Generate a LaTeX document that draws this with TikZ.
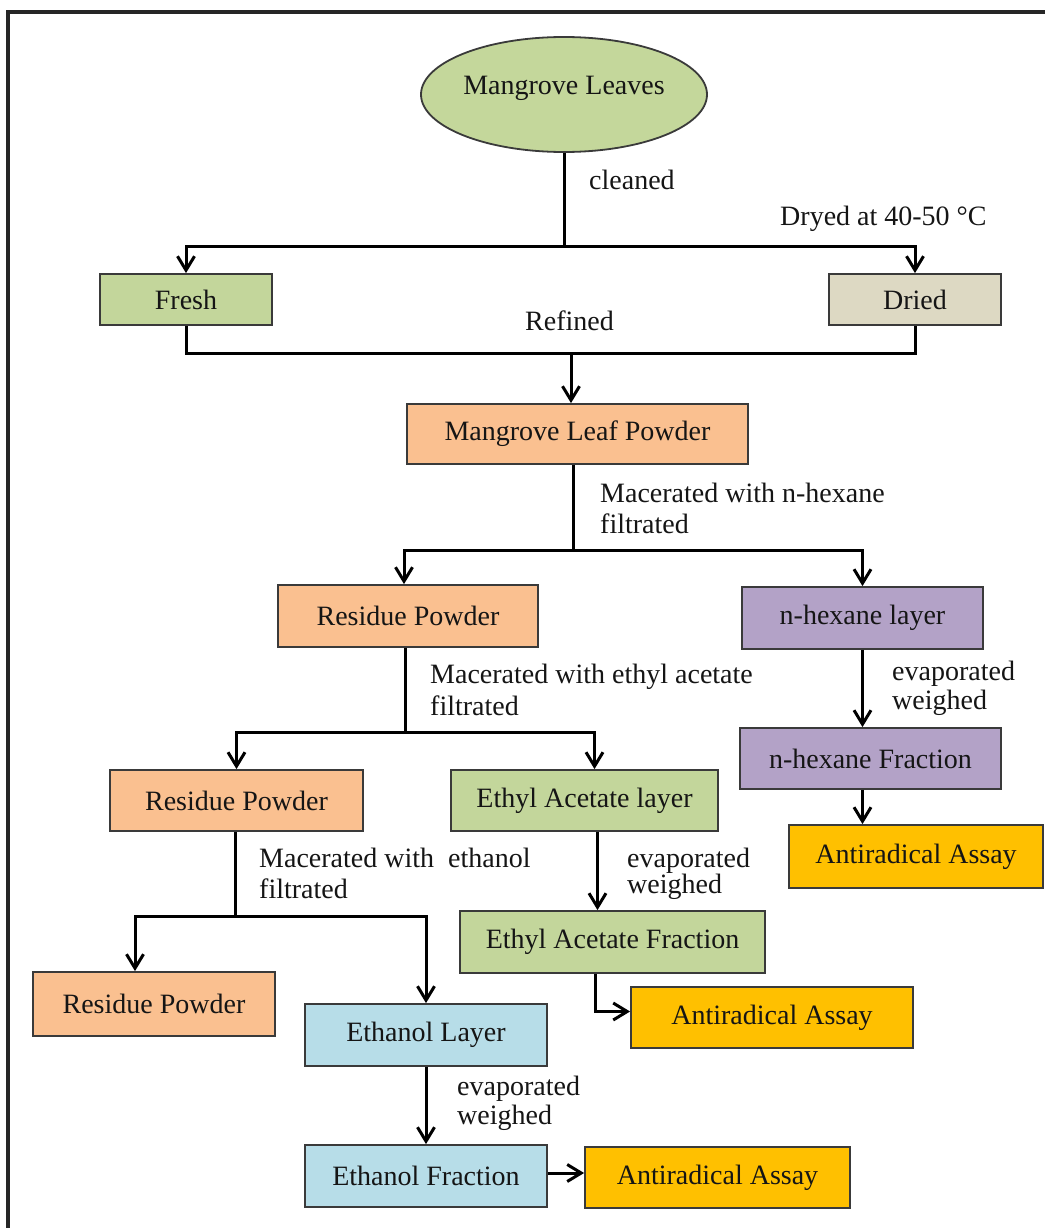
\documentclass[tikz,border=0pt]{standalone}
\usepackage{fontspec}
\setmainfont{Liberation Serif}
\usetikzlibrary{shapes.geometric,arrows.meta,calc}
\definecolor{cEll}{HTML}{C4D79B}
\definecolor{cFresh}{HTML}{C3D69B}
\definecolor{cDried}{HTML}{DDD9C3}
\definecolor{cOr}{HTML}{FAC090}
\definecolor{cPu}{HTML}{B3A2C7}
\definecolor{cGr}{HTML}{C3D69B}
\definecolor{cBl}{HTML}{B7DDE8}
\definecolor{cGo}{HTML}{FFC000}
\definecolor{bd}{HTML}{3A3A3A}
\definecolor{txt}{HTML}{151515}
\newcommand\myfs{\fontsize{28}{32}\selectfont}
\begin{document}
\begin{tikzpicture}[x=1pt,y=-1pt,
  box/.style={rectangle, draw=bd, line width=1.8pt, inner sep=0pt, text=txt, font=\myfs},
  lab/.style={anchor=base west, inner sep=0pt, font=\myfs, text=txt},
  ln/.style={line width=3pt, draw=black},
  arr/.style={ln, -{Straight Barb[length=14pt,width=17pt]}}]
\useasboundingbox (0,0) rectangle (1044,1228);
\fill[white] (0,0) rectangle (1044,1228);
\draw[line width=3.5pt, draw=black!85] (8,1230) -- (8,12) -- (1046,12);

% nodes
\node[ellipse, draw=bd, line width=1.8pt, fill=cEll, minimum width=286pt, minimum height=115pt, inner sep=0pt, text=txt, font=\myfs] (ML) at (564,94.5) {\raisebox{18pt}{Mangrove Leaves}};
\node[box, fill=cFresh, minimum width=172pt, minimum height=51pt] (Fresh) at (186,299.5) {Fresh};
\node[box, fill=cDried, minimum width=172pt, minimum height=51pt] (Dried) at (915,299.5) {Dried};
\node[box, fill=cOr, minimum width=341pt, minimum height=60pt] (MLP) at (577.5,434) {Mangrove Leaf Powder};
\node[box, fill=cOr, minimum width=260pt, minimum height=62pt] (RP1) at (408,616) {Residue Powder};
\node[box, fill=cPu, minimum width=241pt, minimum height=62pt] (NHL) at (862.5,618) {n-hexane layer};
\node[box, fill=cOr, minimum width=253pt, minimum height=61pt] (RP2) at (236.5,800.5) {Residue Powder};
\node[box, fill=cGr, minimum width=267pt, minimum height=61pt] (EAL) at (584.5,800.5) {Ethyl Acetate layer};
\node[box, fill=cPu, minimum width=261pt, minimum height=61pt] (NHF) at (870.5,758.5) {n-hexane Fraction};
\node[box, fill=cGo, minimum width=254pt, minimum height=63pt] (AA1) at (916,856.5) {Antiradical Assay};
\node[box, fill=cOr, minimum width=242pt, minimum height=64pt] (RP3) at (154,1004) {Residue Powder};
\node[box, fill=cBl, minimum width=242pt, minimum height=62pt] (EtL) at (426,1035) {Ethanol Layer};
\node[box, fill=cGr, minimum width=305pt, minimum height=62pt] (EAF) at (612.5,942) {Ethyl Acetate Fraction};
\node[box, fill=cGo, minimum width=282pt, minimum height=61pt] (AA2) at (772,1017.5) {Antiradical Assay};
\node[box, fill=cBl, minimum width=242pt, minimum height=62pt] (EtF) at (426,1176) {Ethanol Fraction};
\node[box, fill=cGo, minimum width=265pt, minimum height=61pt] (AA3) at (717.5,1177.5) {Antiradical Assay};

% junctions
\coordinate (j1) at (564,246);
\coordinate (j2) at (571,353);
\coordinate (j3) at (573,550);
\coordinate (j4) at (405,732);
\coordinate (j5) at (235,916);

% connectors
\draw[ln] (ML.south) -- (j1);
\draw[arr] (j1) -| (Fresh.north);
\draw[arr] (j1) -| (Dried.north);
\draw[ln] (Fresh.south) |- (j2);
\draw[ln] (Dried.south) |- (j2);
\draw[arr] (j2) -- (j2 |- MLP.north);
\draw[ln] (j3 |- MLP.south) -- (j3);
\draw[arr] (j3) -| ([xshift=-4pt]RP1.north);
\draw[arr] (j3) -| (NHL.north);
\draw[ln] (j4 |- RP1.south) -- (j4);
\draw[arr] (j4) -| (RP2.north);
\draw[arr] (j4) -| ([xshift=10pt]EAL.north);
\draw[arr] (NHL.south) -- (NHL.south |- NHF.north);
\draw[arr] (NHL.south |- NHF.south) -- (NHL.south |- AA1.north);
\draw[ln] (j5 |- RP2.south) -- (j5);
\draw[arr] (j5) -| ([xshift=-19pt]RP3.north);
\draw[arr] (j5) -| (EtL.north);
\draw[arr] ([xshift=13pt]EAL.south) -- ([xshift=13pt]EAL.south |- EAF.north);
\draw[arr] ([xshift=-17pt]EAF.south) |- ([yshift=6pt]AA2.west);
\draw[arr] (EtL.south) -- (EtF.north);
\draw[arr] ([yshift=3pt]EtF.east) -- ([yshift=3pt]EtF.east -| AA3.west);

% labels
\node[lab] (l1) at (589,189) {cleaned};
\node[lab] (l2) at (780,225) {Dryed at 40-50 °C};
\node[lab] (l3) at (525,330) {Refined};
\node[lab] (l4) at (600,502) {Macerated with n-hexane};
\node[lab] (l5) at (600,533) {filtrated};
\node[lab] (l6) at (430,683) {Macerated with ethyl acetate};
\node[lab] (l7) at (430,715) {filtrated};
\node[lab] (l8) at (892,680) {evaporated};
\node[lab] (l9) at (892,709) {weighed};
\node[lab] (l10) at (259,867) {Macerated with\ \ ethanol};
\node[lab] (l11) at (259,898) {filtrated};
\node[lab] (l12) at (627,867) {evaporated};
\node[lab] (l13) at (627,893) {weighed};
\node[lab] (l14) at (457,1095) {evaporated};
\node[lab] (l15) at (457,1124) {weighed};
\end{tikzpicture}
\end{document}
